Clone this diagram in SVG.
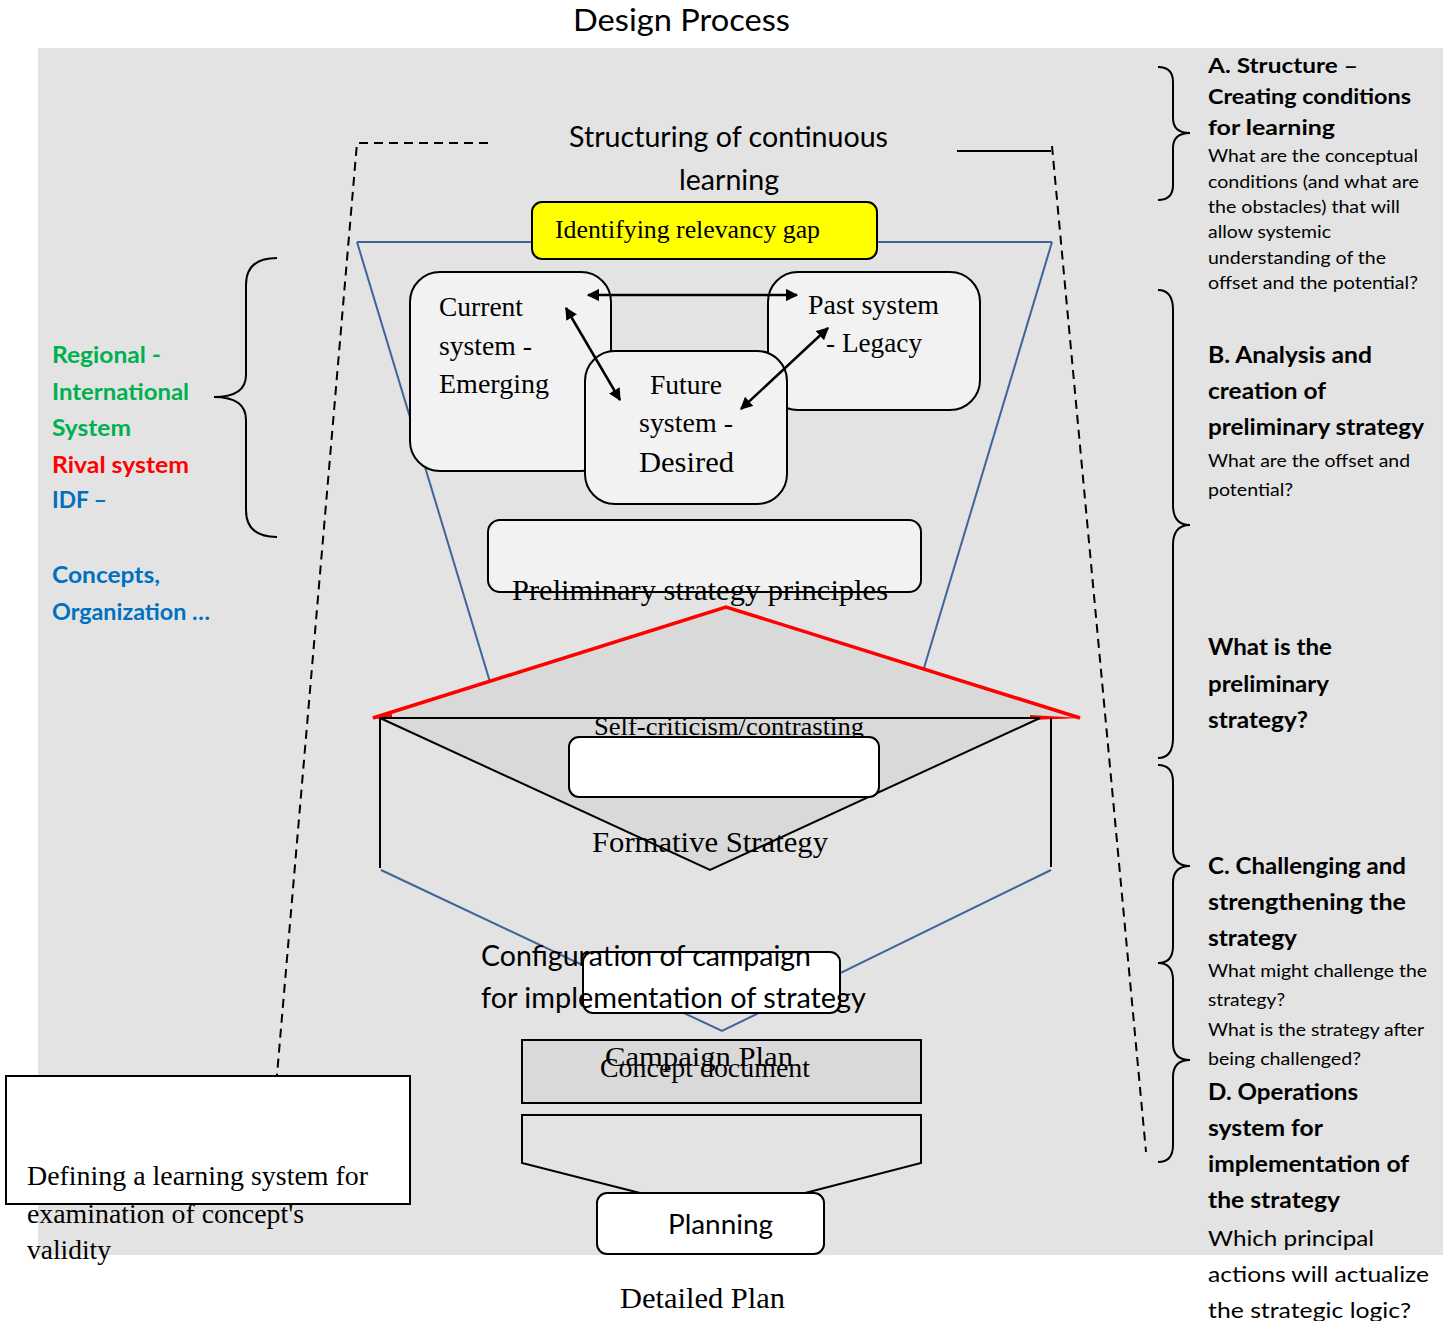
<svg xmlns="http://www.w3.org/2000/svg" width="1451" height="1321" viewBox="0 0 1451 1321">
  <style>
    .sans { font-family: Lato, "Open Sans", "Liberation Sans", sans-serif; fill: #000; }
    .serif { font-family: "Liberation Serif", "Times New Roman", serif; fill: #000; }
    .b { font-weight: bold; }
    .box { stroke: #000; stroke-width: 2; }
    .blue { fill: none; stroke: #3f6598; stroke-width: 2; }
    .dash { fill: none; stroke: #000; stroke-width: 2; stroke-dasharray: 9 6; }
    .brace { fill: none; stroke: #000; stroke-width: 2; }
    .arrow { stroke: #000; stroke-width: 2.5; marker-start: url(#ah); marker-end: url(#ah); }
    .g { fill: #00b050; } .r { fill: #ff0000; } .bl { fill: #0070c0; }
  </style>
  <defs>
    <marker id="ah" viewBox="0 0 10 10" refX="9" refY="5" markerWidth="5" markerHeight="5" orient="auto-start-reverse" markerUnits="strokeWidth">
      <path d="M0,0 L10,5 L0,10 z" fill="#000"/>
    </marker>
  </defs>

  <!-- canvas -->
  <rect x="0" y="0" width="1451" height="1321" fill="#fff"/>
  <rect x="38" y="48" width="1405" height="1207" fill="#e3e3e3"/>

  <text class="sans" x="573" y="31" font-size="30" textLength="217" lengthAdjust="spacingAndGlyphs">Design Process</text>

  <!-- learning loop frame -->
  <g id="frame">
    <path class="dash" d="M488,143 H357 L277,1075"/>
    <path d="M957,151 H1051" stroke="#000" stroke-width="2" fill="none"/>
    <path class="dash" d="M1052,146 L1146,1152"/>
  </g>

  <g id="structuring-label">
    <text class="sans" x="569" y="147" font-size="28" textLength="319" lengthAdjust="spacingAndGlyphs">Structuring of continuous</text>
    <text class="sans" x="679" y="190" font-size="28" textLength="100" lengthAdjust="spacingAndGlyphs">learning</text>
  </g>

  <!-- funnel outline -->
  <g id="funnel">
    <path class="blue" d="M357,242 H540 M870,242 H1052"/>
    <path class="blue" d="M357,242 L490,682"/>
    <path class="blue" d="M1052,242 L924,668"/>
  </g>

  <g id="relevancy-gap">
    <rect x="532" y="202" width="345" height="57" rx="10" fill="#ffff00" class="box"/>
    <text class="serif" x="555" y="238" font-size="25" textLength="265" lengthAdjust="spacingAndGlyphs">Identifying relevancy gap</text>
  </g>

  <g id="current-system">
    <rect x="410" y="272" width="201" height="199" rx="30" fill="#f2f2f2" class="box"/>
    <text class="serif" x="439" y="316" font-size="27" textLength="84" lengthAdjust="spacingAndGlyphs">Current</text>
    <text class="serif" x="439" y="355" font-size="27" textLength="93" lengthAdjust="spacingAndGlyphs">system -</text>
    <text class="serif" x="439" y="393" font-size="27" textLength="110" lengthAdjust="spacingAndGlyphs">Emerging</text>
  </g>

  <g id="past-system">
    <rect x="768" y="272" width="212" height="138" rx="30" fill="#f2f2f2" class="box"/>
    <text class="serif" x="808" y="314" font-size="27" textLength="131" lengthAdjust="spacingAndGlyphs">Past system</text>
    <text class="serif" x="826" y="352" font-size="27" textLength="96" lengthAdjust="spacingAndGlyphs">- Legacy</text>
  </g>

  <g id="future-system">
    <rect x="585" y="351" width="202" height="153" rx="30" fill="#f2f2f2" class="box"/>
    <text class="serif" x="650" y="394" font-size="27" textLength="72" lengthAdjust="spacingAndGlyphs">Future</text>
    <text class="serif" x="639" y="432" font-size="27" textLength="94" lengthAdjust="spacingAndGlyphs">system -</text>
    <text class="serif" x="639" y="472" font-size="30" textLength="95" lengthAdjust="spacingAndGlyphs">Desired</text>
  </g>

  <g id="connectors">
    <line class="arrow" x1="588" y1="295" x2="797" y2="295"/>
    <line class="arrow" x1="566" y1="308" x2="620" y2="400"/>
    <line class="arrow" x1="828" y1="328" x2="741" y2="409"/>
  </g>

  <g id="preliminary-principles">
    <rect x="488" y="520" width="433" height="72" rx="12" fill="#f2f2f2" class="box"/>
    <text class="serif" x="512" y="600" font-size="30" textLength="376" lengthAdjust="spacingAndGlyphs">Preliminary strategy principles</text>
  </g>

  <!-- self-criticism diamond -->
  <g id="self-criticism">
    <polyline points="373,718 726,607 1080,718" fill="#d9d9d9" stroke="#ff0000" stroke-width="3.5" stroke-linejoin="miter"/>
    <polygon points="1030,715 1082,718 1030,720" fill="#ff0000"/>
    <polygon points="371,718 392,714 392,720" fill="#ff0000"/>
    <polygon points="380,718 1040,718 710,870" fill="#d9d9d9" stroke="#000" stroke-width="2"/>
    <path d="M380,718 V868 M1051,718 V867" stroke="#000" stroke-width="2" fill="none"/>
    <path class="blue" d="M381,870 L722,1031 L1051,870"/>
    <text class="serif" x="594" y="735" font-size="26" textLength="270" lengthAdjust="spacingAndGlyphs">Self-criticism/contrasting</text>
    <rect x="569" y="737" width="310" height="60" rx="10" fill="#fff" class="box"/>
    <text class="serif" x="592" y="852" font-size="30" textLength="236" lengthAdjust="spacingAndGlyphs">Formative Strategy</text>
  </g>

  <g id="configuration">
    <rect x="583" y="952" width="257" height="61" rx="10" fill="#fff" class="box"/>
    <text class="sans" x="481" y="966" font-size="28" textLength="330" lengthAdjust="spacingAndGlyphs">Configuration of campaign</text>
    <text class="sans" x="481" y="1008" font-size="28" textLength="385" lengthAdjust="spacingAndGlyphs">for implementation of strategy</text>
  </g>

  <g id="campaign-plan">
    <rect x="522" y="1040" width="399" height="63" fill="#d9d9d9" class="box"/>
    <text class="serif" x="605" y="1066" font-size="27" textLength="188" lengthAdjust="spacingAndGlyphs">Campaign Plan</text>
    <text class="serif" x="600" y="1077" font-size="27" textLength="210" lengthAdjust="spacingAndGlyphs">Concept document</text>
  </g>

  <g id="planning">
    <path d="M640,1193 L522,1163 V1115 H921 V1163 L805,1193" fill="#e3e3e3" class="box"/>
    <rect x="597" y="1193" width="227" height="61" rx="10" fill="#fff" class="box"/>
    <text class="sans" x="668" y="1234" font-size="27" textLength="105" lengthAdjust="spacingAndGlyphs">Planning</text>
  </g>

  <text class="serif" x="620" y="1308" font-size="29" textLength="165" lengthAdjust="spacingAndGlyphs">Detailed Plan</text>

  <g id="learning-system">
    <rect x="6" y="1076" width="404" height="128" fill="#fff" class="box"/>
    <text class="serif" x="27" y="1185" font-size="27" textLength="341" lengthAdjust="spacingAndGlyphs">Defining a learning system for</text>
    <text class="serif" x="27" y="1223" font-size="27" textLength="277" lengthAdjust="spacingAndGlyphs">examination of concept's</text>
    <text class="serif" x="27" y="1259" font-size="27" textLength="84" lengthAdjust="spacingAndGlyphs">validity</text>
  </g>

  <!-- context labels, left -->
  <g id="context">
    <path class="brace" d="M277,258 Q246,258 246,285 V375 Q246,397 214,397 Q246,397 246,420 V510 Q246,537 277,537"/>
    <g class="sans b" font-size="22">
      <text class="g" x="52" y="363" textLength="109" lengthAdjust="spacingAndGlyphs">Regional -</text>
      <text class="g" x="52" y="400" textLength="137" lengthAdjust="spacingAndGlyphs">International</text>
      <text class="g" x="52" y="436" textLength="79" lengthAdjust="spacingAndGlyphs">System</text>
      <text class="r" x="52" y="473" textLength="137" lengthAdjust="spacingAndGlyphs">Rival system</text>
      <text class="bl" x="52" y="508" textLength="55" lengthAdjust="spacingAndGlyphs">IDF –</text>
      <text class="bl" x="52" y="583" textLength="108" lengthAdjust="spacingAndGlyphs">Concepts,</text>
      <text class="bl" x="52" y="620" textLength="158" lengthAdjust="spacingAndGlyphs">Organization …</text>
    </g>
  </g>

  <!-- stage braces, right -->
  <g id="stage-braces">
    <path class="brace" d="M1158,67 Q1173,67 1173,82 V118 Q1173,133 1190,133 Q1173,133 1173,148 V185 Q1173,200 1158,200"/>
    <path class="brace" d="M1158,290 Q1173,290 1173,310 V505 Q1173,525 1190,525 Q1173,525 1173,545 V738 Q1173,758 1158,758"/>
    <path class="brace" d="M1158,765 Q1173,765 1173,782 V849 Q1173,866 1190,866 Q1173,866 1173,883 V946 Q1173,963 1158,963"/>
    <path class="brace" d="M1158,963 Q1173,963 1173,980 V1043 Q1173,1060 1190,1060 Q1173,1060 1173,1077 V1145 Q1173,1162 1158,1162"/>
  </g>

  <g id="stage-a" class="sans">
    <g class="b" font-size="21">
      <text x="1208" y="73" textLength="150" lengthAdjust="spacingAndGlyphs">A. Structure –</text>
      <text x="1208" y="104" textLength="203" lengthAdjust="spacingAndGlyphs">Creating conditions</text>
      <text x="1208" y="135" textLength="127" lengthAdjust="spacingAndGlyphs">for learning</text>
    </g>
    <g font-size="17">
      <text x="1208" y="162" textLength="210" lengthAdjust="spacingAndGlyphs">What are the conceptual</text>
      <text x="1208" y="188" textLength="211" lengthAdjust="spacingAndGlyphs">conditions (and what are</text>
      <text x="1208" y="213" textLength="192" lengthAdjust="spacingAndGlyphs">the obstacles) that will</text>
      <text x="1208" y="238" textLength="123" lengthAdjust="spacingAndGlyphs">allow systemic</text>
      <text x="1208" y="264" textLength="178" lengthAdjust="spacingAndGlyphs">understanding of the</text>
      <text x="1208" y="289" textLength="210" lengthAdjust="spacingAndGlyphs">offset and the potential?</text>
    </g>
  </g>

  <g id="stage-b" class="sans">
    <g class="b" font-size="22">
      <text x="1208" y="363" textLength="164" lengthAdjust="spacingAndGlyphs">B. Analysis and</text>
      <text x="1208" y="399" textLength="118" lengthAdjust="spacingAndGlyphs">creation of</text>
      <text x="1208" y="435" textLength="216" lengthAdjust="spacingAndGlyphs">preliminary strategy</text>
    </g>
    <g font-size="17">
      <text x="1208" y="467" textLength="202" lengthAdjust="spacingAndGlyphs">What are the offset and</text>
      <text x="1208" y="496" textLength="85" lengthAdjust="spacingAndGlyphs">potential?</text>
    </g>
    <g class="b" font-size="22">
      <text x="1208" y="655" textLength="124" lengthAdjust="spacingAndGlyphs">What is the</text>
      <text x="1208" y="692" textLength="121" lengthAdjust="spacingAndGlyphs">preliminary</text>
      <text x="1208" y="728" textLength="100" lengthAdjust="spacingAndGlyphs">strategy?</text>
    </g>
  </g>

  <g id="stage-c" class="sans">
    <g class="b" font-size="22">
      <text x="1208" y="874" textLength="198" lengthAdjust="spacingAndGlyphs">C. Challenging  and</text>
      <text x="1208" y="910" textLength="198" lengthAdjust="spacingAndGlyphs">strengthening the</text>
      <text x="1208" y="946" textLength="89" lengthAdjust="spacingAndGlyphs">strategy</text>
    </g>
    <g font-size="17">
      <text x="1208" y="977" textLength="219" lengthAdjust="spacingAndGlyphs">What might challenge the</text>
      <text x="1208" y="1006" textLength="77" lengthAdjust="spacingAndGlyphs">strategy?</text>
      <text x="1208" y="1036" textLength="216" lengthAdjust="spacingAndGlyphs">What is the strategy after</text>
      <text x="1208" y="1065" textLength="153" lengthAdjust="spacingAndGlyphs">being challenged?</text>
    </g>
  </g>

  <g id="stage-d" class="sans">
    <g class="b" font-size="22">
      <text x="1208" y="1100" textLength="150" lengthAdjust="spacingAndGlyphs">D. Operations</text>
      <text x="1208" y="1136" textLength="115" lengthAdjust="spacingAndGlyphs">system for</text>
      <text x="1208" y="1172" textLength="201" lengthAdjust="spacingAndGlyphs">implementation of</text>
      <text x="1208" y="1208" textLength="132" lengthAdjust="spacingAndGlyphs">the strategy</text>
    </g>
    <g font-size="22">
      <text x="1208" y="1246" textLength="166" lengthAdjust="spacingAndGlyphs">Which principal</text>
      <text x="1208" y="1282" textLength="221" lengthAdjust="spacingAndGlyphs">actions will actualize</text>
      <text x="1208" y="1318" textLength="203" lengthAdjust="spacingAndGlyphs">the strategic logic?</text>
    </g>
  </g>
</svg>
